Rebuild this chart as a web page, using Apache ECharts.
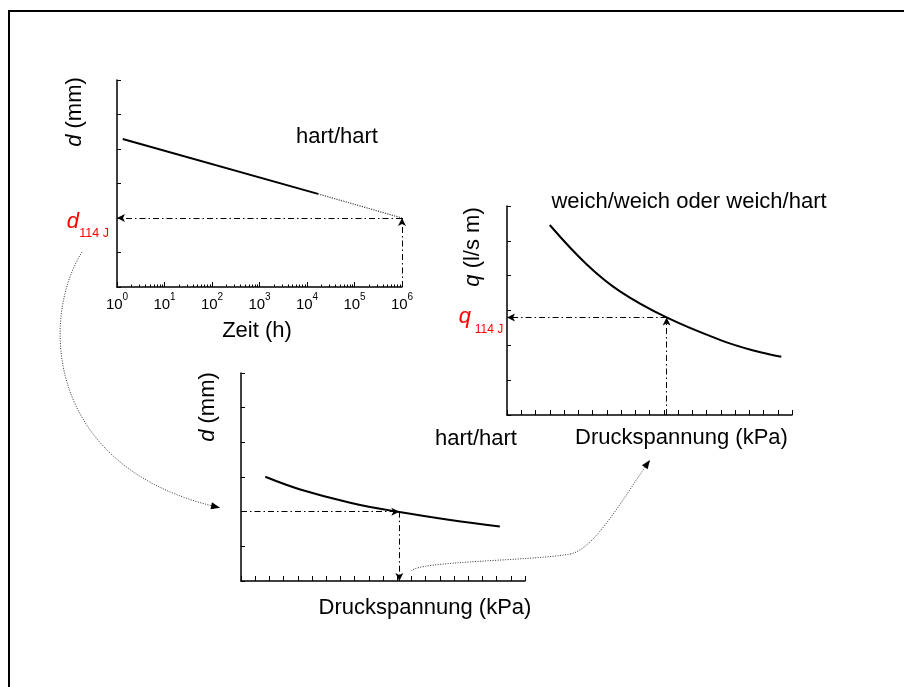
<!DOCTYPE html>
<html>
<head>
<meta charset="utf-8">
<script src="https://cdn.jsdelivr.net/npm/echarts@6/dist/echarts.min.js"></script>
<style>
  html,body{margin:0;padding:0;background:#fff;}
  #main{width:904px;height:687px;}
</style>
</head>
<body>
<div id="main"></div>
<script>
// chart 1 (top left): d over time, log axis, hart/hart
var zeitMeasured = [1.32, 17000];
var dMeasured = [4.29, 2.70];
var zeitExtrap = [17000, 1000000];
var dExtrap = [2.70, 2.0];

// chart 2 (right): q over compressive stress
var pressQ = [3.0, 5.58, 7.93, 11.2, 14.98, 17.3, 19.25];
var qValues = [5.455, 4.33, 3.55, 2.80, 2.15, 1.85, 1.67];

// chart 3 (bottom): d over compressive stress
var pressD = [1.71, 4.17, 7.69, 11.15, 14.74, 18.23];
var dValues = [3.006, 2.64, 2.26, 1.99, 1.76, 1.57];

// reading lines (114 J)
var zeit114 = 1000000, d114 = 2.0;
var press114d = 11.15;
var press114q = 11.2, q114 = 2.8;

var FONT = 'Liberation Sans, Arial, sans-serif';

function zip(a, b){
  var out = [];
  for (var i = 0; i < a.length; i++) out.push([a[i], b[i]]);
  return out;
}

function valAxis(idx, max, tickLen){
  return {
    type: 'value', gridIndex: idx, min: 0, max: max, interval: 1,
    axisLine: {show: true, onZero: false, lineStyle: {color: '#000', width: 1.5}},
    axisTick: {show: true, inside: true, length: tickLen, lineStyle: {color: '#000', width: 1}},
    axisLabel: {show: false},
    splitLine: {show: false}
  };
}

function readLine(segs){
  return {
    silent: true,
    animation: false,
    symbol: ['none', 'arrow'],
    symbolSize: [6, 8],
    label: {show: false},
    lineStyle: {color: '#000', width: 1, type: [6, 3, 1.5, 3]},
    data: segs.map(function(s){ return [{coord: s[0]}, {coord: s[1]}]; })
  };
}

var chart = echarts.init(document.getElementById('main'));

var option = {
  backgroundColor: '#fff',
  animation: false,
  grid: [
    {left: 117, top: 80, width: 285, height: 207},
    {left: 507, top: 206, width: 285, height: 209},
    {left: 241, top: 373, width: 284, height: 208}
  ],
  xAxis: [
    {
      type: 'log', gridIndex: 0, min: 1, max: 1000000, logBase: 10, interval: 1, splitNumber: 6,
      axisLine: {show: true, onZero: false, lineStyle: {color: '#000', width: 1.5}},
      axisTick: {show: true, inside: true, length: 5, lineStyle: {color: '#000', width: 1}},
      minorTick: {show: true, splitNumber: 9, length: 2.5, lineStyle: {color: '#000', width: 1}},
      splitLine: {show: false},
      axisLabel: {
        margin: 5,
        formatter: function(v){
          return '{b|10}{s|' + Math.round(Math.log10(v)) + '}';
        },
        rich: {
          b: {fontSize: 15, fontFamily: FONT, color: '#000', lineHeight: 20, verticalAlign: 'bottom'},
          s: {fontSize: 10, fontFamily: FONT, color: '#000', lineHeight: 12, verticalAlign: 'top'}
        }
      }
    },
    valAxis(1, 20, 5),
    valAxis(2, 20, 5)
  ],
  yAxis: [
    valAxis(0, 6, 4),
    valAxis(1, 6, 4),
    valAxis(2, 6, 4)
  ],
  series: [
    {
      type: 'line', xAxisIndex: 0, yAxisIndex: 0, symbol: 'none',
      data: zip(zeitMeasured, dMeasured),
      lineStyle: {color: '#000', width: 2},
      markLine: readLine([[[zeit114, 0], [zeit114, d114]], [[zeit114, d114], [1, d114]]])
    },
    {
      type: 'line', xAxisIndex: 0, yAxisIndex: 0, symbol: 'none',
      data: zip(zeitExtrap, dExtrap),
      lineStyle: {color: '#444', width: 1.2, type: 'dotted'}
    },
    {
      type: 'line', xAxisIndex: 1, yAxisIndex: 1, symbol: 'none', smooth: 0.4,
      data: zip(pressQ, qValues),
      lineStyle: {color: '#000', width: 2},
      markLine: readLine([[[press114q, 0], [press114q, q114]], [[press114q, q114], [0, q114]]])
    },
    {
      type: 'line', xAxisIndex: 2, yAxisIndex: 2, symbol: 'none', smooth: 0.4,
      data: zip(pressD, dValues),
      lineStyle: {color: '#000', width: 2},
      markLine: readLine([[[0, d114], [press114d, d114]], [[press114d, d114], [press114d, 0]]])
    }
  ]
};

chart.setOption(option);

// ---- annotations: names, red labels, connector arrows
function px(g, x, y){ return chart.convertToPixel({gridIndex: g}, [x, y]); }

function txt(x, y, text, size, extra){
  var style = {text: text, x: 0, y: 0, fontSize: size, fontFamily: FONT, fill: '#000', align: 'center', verticalAlign: 'middle'};
  var el = {type: 'text', x: x, y: y, silent: true, style: style};
  if (extra) {
    for (var k in extra) {
      if (k === 'rotation') el.rotation = extra[k];
      else style[k] = extra[k];
    }
  }
  return el;
}

function yName(x, y, sym, rest){
  return txt(x, y, '{i|' + sym + '}' + rest, 22, {
    rotation: Math.PI / 2,
    rich: {i: {fontStyle: 'italic', fontSize: 22, fontFamily: FONT, fill: '#000'}}
  });
}

function arrowHead(tip, from, len, half){
  var dx = tip[0] - from[0], dy = tip[1] - from[1];
  var l = Math.sqrt(dx * dx + dy * dy);
  dx /= l; dy /= l;
  var bx = tip[0] - dx * len, by = tip[1] - dy * len;
  return {type: 'polygon', silent: true,
    shape: {points: [tip, [bx - dy * half, by + dx * half], [bx + dy * half, by - dx * half]]},
    style: {fill: '#000'}};
}

function curve(p0, p1, p2, p3){
  return {type: 'bezierCurve', silent: true,
    shape: {x1: p0[0], y1: p0[1], cpx1: p1[0], cpy1: p1[1], cpx2: p2[0], cpy2: p2[1], x2: p3[0], y2: p3[1]},
    style: {stroke: '#333', lineWidth: 1, lineDash: [1, 1.5], fill: null}};
}

var o1 = px(0, 1, 0), t1 = px(0, 1, 6);
var o2 = px(1, 0, 0), t2 = px(1, 0, 6);
var o3 = px(2, 0, 0), t3 = px(2, 0, 6);
var a1 = px(0, 1, d114);
var a2 = px(1, 0, q114);
var a3 = px(2, 0, d114);
var b3 = px(2, press114d, 0);

var red = '#ff0000';
var g = [];
g.push({type: 'rect', silent: true, shape: {x: 9, y: 11, width: 1200, height: 1200},
  style: {fill: null, stroke: '#000', lineWidth: 2}});

// chart 1
g.push(yName(o1[0] - 42, t1[1] + 32, 'd', ' (mm)'));
g.push(txt(o1[0] + 220, t1[1] + 57, 'hart/hart', 22));
g.push(txt(o1[0] + 140, o1[1] + 44, 'Zeit (h)', 22));
g.push(txt(a1[0] - 50.3, a1[1] + 4.3, 'd', 22, {fill: red, align: 'left', fontStyle: 'italic'}));
g.push(txt(a1[0] - 37.7, a1[1] + 15.3, '114 J', 12.5, {fill: red, align: 'left'}));

// chart 2
g.push(yName(o2[0] - 34, t2[1] + 41, 'q', ' (l/s m)'));
g.push(txt(o2[0] + 182, t2[1] - 4.4, 'weich/weich oder weich/hart', 22));
g.push(txt(o2[0] + 174.5, o2[1] + 23, 'Druckspannung (kPa)', 22));
g.push(txt(a2[0] - 48.3, a2[1] - 0.9, 'q', 22, {fill: red, align: 'left', fontStyle: 'italic'}));
g.push(txt(a2[0] - 32.3, a2[1] + 12.5, '114 J', 12, {fill: red, align: 'left'}));

// chart 3
g.push(yName(o3[0] - 33, t3[1] + 34, 'd', ' (mm)'));
g.push(txt(o3[0] + 235, t3[1] + 66, 'hart/hart', 22));
g.push(txt(o3[0] + 184, o3[1] + 26.5, 'Druckspannung (kPa)', 22));

// connector: d114 (chart 1) -> chart 3 y axis
var c0 = [a1[0] - 35, a1[1] + 34];
var c1 = [a1[0] - 77, a1[1] + 101];
var c2 = [a1[0] - 72, a1[1] + 251];
var c3 = [a3[0] - 21, a3[1] - 4];
g.push(curve(c0, c1, c2, c3));
g.push(arrowHead(c3, c2, 9, 3.5));

// connector: chart 3 pressure -> chart 2 pressure axis
var e0 = [b3[0] + 12, b3[1] - 10];
var e1 = [b3[0] + 19, b3[1] - 20];
var e2 = [b3[0] + 131, b3[1] - 20];
var e3 = [b3[0] + 171, b3[1] - 27];
var f1 = [e3[0] + 25, e3[1] - 5];
var f2 = [o2[0] + 118, o2[1] + 80];
var f3 = [o2[0] + 143, o2[1] + 45];
g.push(curve(e0, e1, e2, e3));
g.push(curve(e3, f1, f2, f3));
g.push(arrowHead(f3, f2, 9, 3.5));

chart.setOption({graphic: g});
</script>
</body>
</html>
